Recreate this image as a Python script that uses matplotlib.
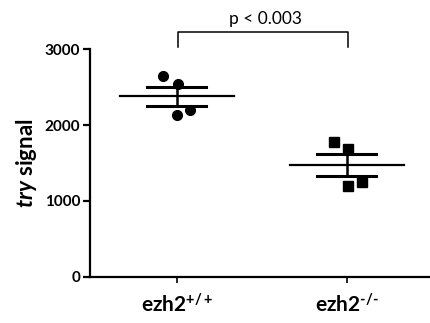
import numpy as np
import matplotlib.pyplot as plt

plt.rcParams['font.family'] = ['Lato', 'DejaVu Sans']
plt.rcParams['mathtext.fontset'] = 'custom'
plt.rcParams['mathtext.rm'] = 'Lato:bold'
plt.rcParams['mathtext.bf'] = 'Lato:bold'
plt.rcParams['mathtext.it'] = 'Lato:italic:bold'

groups = ['ezh2$^{+/+}$', 'ezh2$^{\u2010/\u2010}$']
wt = [2648, 2540, 2133, 2200]
ko = [1773, 1685, 1197, 1253]
wt_dx = [-0.08, 0.005, 0.0, 0.08]
ko_dx = [-0.075, 0.01, 0.01, 0.09]
markers = ['o', 's']
p_text = 'p < 0.003'

fig = plt.figure(figsize=(4.3, 3.23), dpi=100)
ax = fig.add_axes([0.2093, 0.1433, 0.7907, 0.704])

for i, (vals, dx) in enumerate([(wt, wt_dx), (ko, ko_dx)]):
    v = np.array(vals, dtype=float)
    m = v.mean()
    sem = v.std(ddof=1) / np.sqrt(len(v))
    ax.plot(np.array(dx) + i, v, linestyle='none', marker=markers[i],
            color='black', markersize=7, clip_on=False, zorder=3)
    ax.plot([i - 0.335, i + 0.335], [m, m], color='black', lw=1.6)
    ax.plot([i - 0.174, i + 0.174], [m + sem, m + sem], color='black', lw=2.2)
    ax.plot([i - 0.174, i + 0.174], [m - sem, m - sem], color='black', lw=2.2)
    ax.plot([i, i], [m - sem, m + sem], color='black', lw=1.8)

# significance bracket
ax.plot([0.01, 0.01, 1.01, 1.01], [3034, 3228, 3228, 3034], color='black',
        lw=1.1, clip_on=False)
ax.text(0.52, 3300, p_text, ha='center', va='bottom', fontsize=12.5)

ax.set_xlim(-0.51, 1.49)
ax.set_ylim(0, 3000)
ax.set_xticks([0, 1])
ax.set_xticklabels(groups, fontsize=15, fontweight='bold')
ax.set_yticks([0, 1000, 2000, 3000])
ax.set_yticklabels(['0', '1000', '2000', '3000'], fontsize=11, fontweight='bold')
ax.set_ylabel(r'$\it{try}$ signal', fontsize=16, fontweight='bold', labelpad=4)

for s in ['top', 'right']:
    ax.spines[s].set_visible(False)
for s in ['left', 'bottom']:
    ax.spines[s].set_linewidth(1.6)
ax.tick_params(axis='y', length=5, width=1.6, pad=2)
ax.tick_params(axis='x', length=4, width=1.2, pad=8)

fig.savefig('out.png', dpi=100)
